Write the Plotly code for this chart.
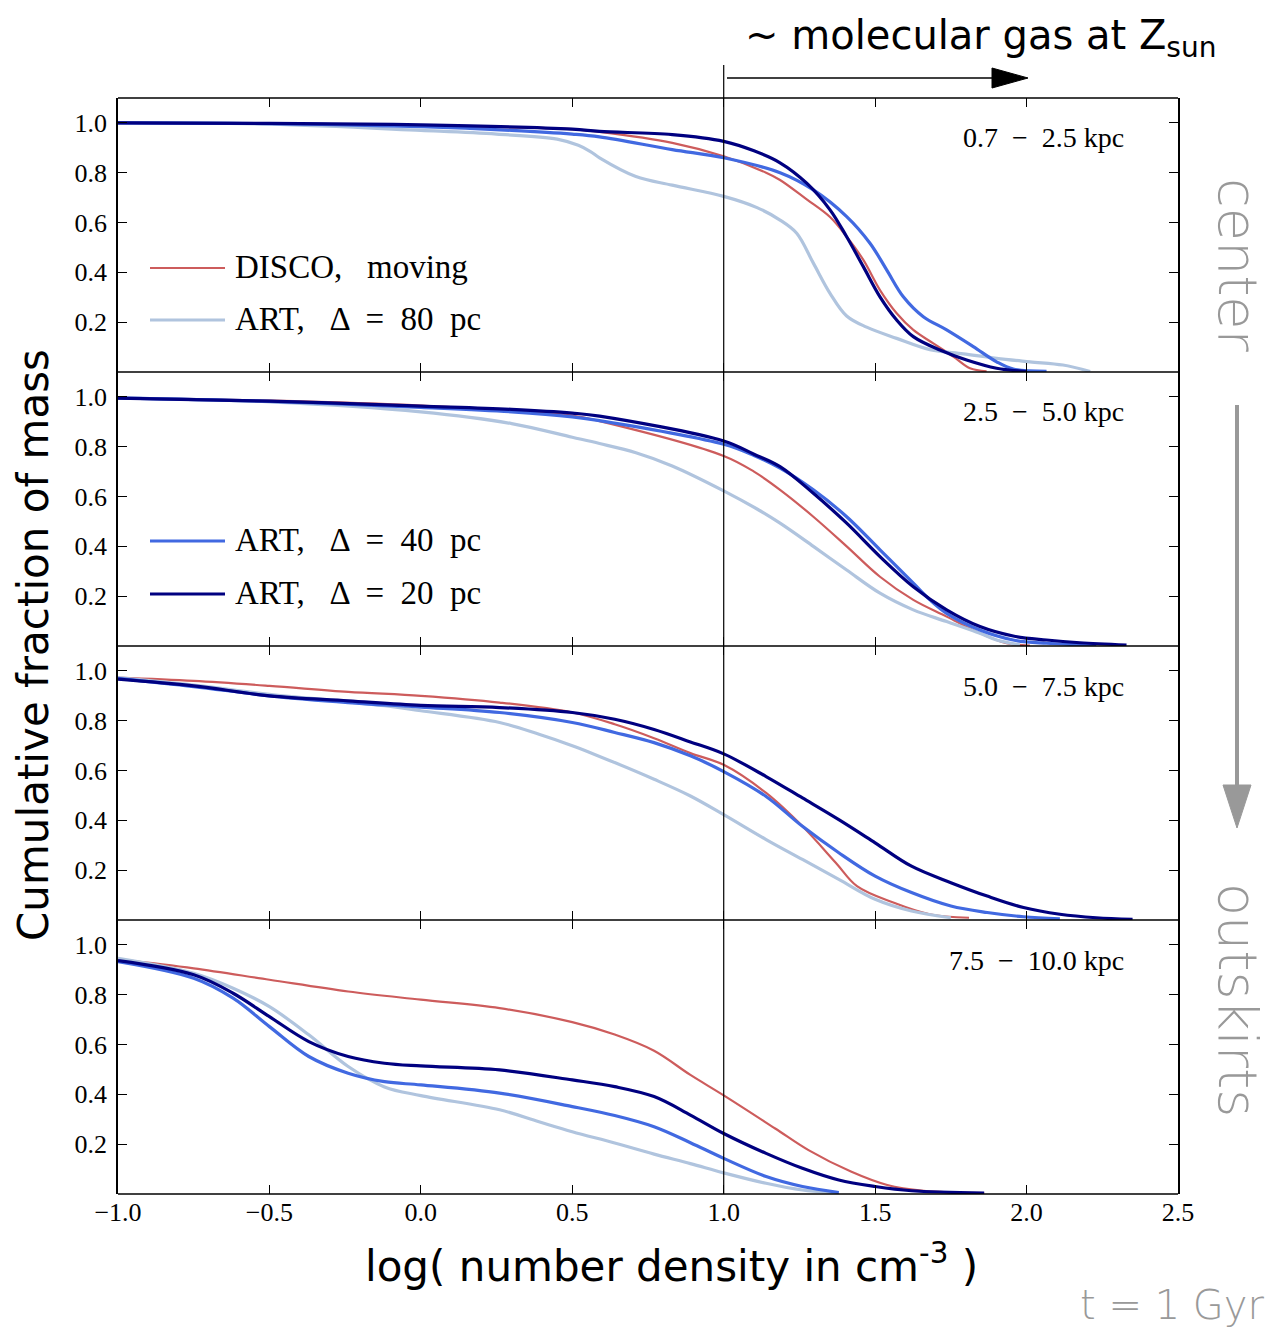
import plotly.graph_objects as go
from plotly.subplots import make_subplots

# ---------------- data ----------------
panel_labels = ["0.7  \u2212  2.5 kpc", "2.5  \u2212  5.0 kpc", "5.0  \u2212  7.5 kpc", "7.5  \u2212  10.0 kpc"]
series_names = ["DISCO,   moving", "ART,   \u0394  =  80  pc", "ART,   \u0394  =  40  pc", "ART,   \u0394  =  20  pc"]

# panel 1 : 0.7 - 2.5 kpc
p1_disco_x = [-1.0, -0.5, 0.0, 0.5, 0.59, 0.83, 1.0, 1.14, 1.186, 1.274, 1.351, 1.406, 1.461, 1.516, 1.571, 1.626, 1.692, 1.758, 1.813, 1.868]
p1_disco_y = [1.0, 0.997, 0.99, 0.975, 0.964, 0.92, 0.866, 0.80, 0.771, 0.693, 0.622, 0.543, 0.45, 0.329, 0.236, 0.169, 0.115, 0.062, 0.015, 0.003]
p1_art80_x = [-1.0, -0.5, 0.0, 0.25, 0.45, 0.52, 0.56, 0.59, 0.71, 0.83, 1.0, 1.11, 1.186, 1.241, 1.296, 1.351, 1.406, 1.472, 1.571, 1.681, 1.791, 1.901, 2.011, 2.12, 2.21]
p1_art80_y = [1.0, 0.995, 0.97, 0.955, 0.935, 0.91, 0.885, 0.86, 0.785, 0.75, 0.705, 0.66, 0.61, 0.557, 0.437, 0.316, 0.225, 0.18, 0.135, 0.09, 0.073, 0.055, 0.041, 0.028, 0.002]
p1_art40_x = [-1.0, -0.5, 0.0, 0.3, 0.5, 0.59, 0.83, 1.0, 1.186, 1.296, 1.406, 1.483, 1.538, 1.593, 1.659, 1.736, 1.824, 1.901, 1.956, 2.066]
p1_art40_y = [1.0, 0.997, 0.985, 0.97, 0.955, 0.944, 0.893, 0.86, 0.80, 0.731, 0.624, 0.517, 0.41, 0.302, 0.222, 0.169, 0.102, 0.041, 0.012, 0.003]
p1_art20_x = [-1.0, -0.5, 0.0, 0.5, 0.59, 0.83, 1.0, 1.10, 1.186, 1.274, 1.351, 1.406, 1.461, 1.516, 1.571, 1.626, 1.714, 1.802, 1.901, 2.0]
p1_art20_y = [1.0, 0.998, 0.992, 0.975, 0.966, 0.953, 0.926, 0.888, 0.84, 0.758, 0.651, 0.543, 0.423, 0.302, 0.209, 0.142, 0.088, 0.048, 0.015, 0.002]

# panel 2 : 2.5 - 5.0 kpc
p2_disco_x = [-1.0, -0.5, 0.0, 0.5, 0.59, 1.0, 1.10, 1.186, 1.296, 1.406, 1.516, 1.626, 1.736, 1.846, 1.934, 2.011]
p2_disco_y = [0.995, 0.985, 0.965, 0.925, 0.903, 0.763, 0.70, 0.627, 0.519, 0.40, 0.278, 0.185, 0.118, 0.051, 0.011, 0.002]
p2_art80_x = [-1.0, -0.5, 0.0, 0.3, 0.5, 0.59, 0.71, 0.83, 1.0, 1.11, 1.186, 1.296, 1.406, 1.516, 1.626, 1.736, 1.846, 1.901, 1.978]
p2_art80_y = [0.995, 0.98, 0.94, 0.893, 0.838, 0.813, 0.776, 0.723, 0.623, 0.55, 0.493, 0.40, 0.305, 0.212, 0.145, 0.098, 0.051, 0.024, 0.004]
p2_art40_x = [-1.0, -0.5, 0.0, 0.3, 0.5, 0.59, 1.0, 1.10, 1.186, 1.296, 1.406, 1.516, 1.626, 1.681, 1.736, 1.846, 1.956, 2.066, 2.23]
p2_art40_y = [0.995, 0.982, 0.958, 0.94, 0.92, 0.905, 0.81, 0.765, 0.714, 0.627, 0.519, 0.386, 0.252, 0.185, 0.131, 0.064, 0.024, 0.011, 0.003]
p2_art20_x = [-1.0, -0.5, 0.0, 0.3, 0.5, 0.59, 1.0, 1.10, 1.186, 1.296, 1.406, 1.516, 1.626, 1.736, 1.846, 1.956, 2.066, 2.176, 2.33]
p2_art20_y = [0.995, 0.983, 0.963, 0.95, 0.935, 0.923, 0.823, 0.77, 0.72, 0.613, 0.493, 0.359, 0.238, 0.145, 0.078, 0.04, 0.024, 0.013, 0.004]

# panel 3 : 5.0 - 7.5 kpc
p3_disco_x = [-1.0, -0.75, -0.5, -0.24, 0.0, 0.26, 0.5, 0.64, 0.77, 0.89, 1.0, 1.14, 1.26, 1.37, 1.44, 1.56, 1.68, 1.81]
p3_disco_y = [0.973, 0.96, 0.94, 0.916, 0.90, 0.873, 0.833, 0.786, 0.73, 0.67, 0.623, 0.51, 0.376, 0.23, 0.136, 0.07, 0.023, 0.009]
p3_art80_x = [-1.0, -0.75, -0.5, -0.24, -0.12, 0.0, 0.26, 0.39, 0.5, 0.64, 0.77, 0.89, 1.0, 1.14, 1.26, 1.38, 1.50, 1.62, 1.75]
p3_art80_y = [0.973, 0.943, 0.906, 0.876, 0.86, 0.84, 0.793, 0.746, 0.70, 0.632, 0.565, 0.498, 0.423, 0.323, 0.243, 0.163, 0.083, 0.036, 0.009]
p3_art40_x = [-1.0, -0.75, -0.5, -0.24, 0.0, 0.26, 0.5, 0.64, 0.77, 0.89, 1.0, 1.14, 1.26, 1.38, 1.50, 1.62, 1.75, 1.87, 1.99, 2.11]
p3_art40_y = [0.97, 0.937, 0.90, 0.873, 0.855, 0.833, 0.793, 0.753, 0.712, 0.659, 0.596, 0.496, 0.376, 0.27, 0.176, 0.11, 0.056, 0.03, 0.013, 0.005]
p3_art20_x = [-1.0, -0.75, -0.5, -0.24, 0.0, 0.26, 0.5, 0.64, 0.77, 0.89, 1.0, 1.14, 1.26, 1.38, 1.50, 1.62, 1.75, 1.87, 1.99, 2.11, 2.23, 2.35]
p3_art20_y = [0.967, 0.94, 0.90, 0.88, 0.862, 0.853, 0.833, 0.806, 0.765, 0.715, 0.667, 0.576, 0.49, 0.403, 0.31, 0.216, 0.15, 0.096, 0.05, 0.023, 0.009, 0.003]

# panel 4 : 7.5 - 10.0 kpc
p4_disco_x = [-1.0, -0.75, -0.5, -0.24, 0.0, 0.26, 0.5, 0.64, 0.77, 0.89, 1.0, 1.17, 1.28, 1.42, 1.54, 1.66, 1.86]
p4_disco_y = [0.942, 0.906, 0.86, 0.813, 0.78, 0.746, 0.69, 0.64, 0.575, 0.478, 0.396, 0.263, 0.176, 0.09, 0.036, 0.013, 0.004]
p4_art80_x = [-1.0, -0.75, -0.62, -0.5, -0.37, -0.24, -0.12, 0.0, 0.26, 0.39, 0.5, 0.64, 0.77, 0.89, 1.0, 1.14, 1.26, 1.38]
p4_art80_y = [0.946, 0.886, 0.826, 0.752, 0.639, 0.512, 0.43, 0.395, 0.338, 0.29, 0.25, 0.205, 0.16, 0.122, 0.085, 0.043, 0.016, 0.004]
p4_art40_x = [-1.0, -0.75, -0.62, -0.5, -0.37, -0.24, -0.12, 0.0, 0.26, 0.5, 0.64, 0.77, 0.89, 1.0, 1.14, 1.26, 1.38]
p4_art40_y = [0.933, 0.866, 0.786, 0.672, 0.552, 0.485, 0.451, 0.438, 0.405, 0.351, 0.315, 0.27, 0.206, 0.143, 0.07, 0.03, 0.006]
p4_art20_x = [-1.0, -0.75, -0.62, -0.5, -0.37, -0.24, -0.12, 0.0, 0.26, 0.5, 0.64, 0.77, 0.89, 1.0, 1.14, 1.26, 1.38, 1.50, 1.62, 1.86]
p4_art20_y = [0.937, 0.88, 0.806, 0.712, 0.612, 0.552, 0.525, 0.514, 0.498, 0.458, 0.431, 0.391, 0.317, 0.243, 0.163, 0.103, 0.056, 0.03, 0.013, 0.004]

x_tickvals = [-1.0, -0.5, 0.0, 0.5, 1.0, 1.5, 2.0, 2.5]
x_ticktext = ["\u22121.0", "\u22120.5", "0.0", "0.5", "1.0", "1.5", "2.0", "2.5"]
y_tickvals = [0.2, 0.4, 0.6, 0.8, 1.0]
y_ticktext = ["0.2", "0.4", "0.6", "0.8", "1.0"]

# ---------------- styling ----------------
colors = ["#CD5C5C", "#B0C4DE", "#4169E1", "#000080"]
widths = [2.2, 3.2, 3.2, 3.2]
SERIF = "Liberation Serif, DejaVu Serif, serif"
SANS = "DejaVu Sans, Lato, sans-serif"
GRAY = "#999999"

panels = [
    [(p1_disco_x, p1_disco_y), (p1_art80_x, p1_art80_y), (p1_art40_x, p1_art40_y), (p1_art20_x, p1_art20_y)],
    [(p2_disco_x, p2_disco_y), (p2_art80_x, p2_art80_y), (p2_art40_x, p2_art40_y), (p2_art20_x, p2_art20_y)],
    [(p3_disco_x, p3_disco_y), (p3_art80_x, p3_art80_y), (p3_art40_x, p3_art40_y), (p3_art20_x, p3_art20_y)],
    [(p4_disco_x, p4_disco_y), (p4_art80_x, p4_art80_y), (p4_art40_x, p4_art40_y), (p4_art20_x, p4_art20_y)],
]

fig = make_subplots(rows=4, cols=1, shared_xaxes=True, vertical_spacing=0)

for r, panel in enumerate(panels, start=1):
    for s, (xs, ys) in enumerate(panel):
        fig.add_trace(go.Scatter(
            x=xs, y=ys, mode="lines", name=series_names[s],
            line=dict(color=colors[s], width=widths[s], shape="spline", smoothing=1.0),
            showlegend=False, hoverinfo="skip"), row=r, col=1)

for r in range(1, 5):
    fig.update_xaxes(range=[-1.0, 2.5], tickvals=x_tickvals, ticktext=x_ticktext,
                     ticks="inside", ticklen=9, tickwidth=1.3, tickcolor="black",
                     showline=False, mirror="ticks",
                     showgrid=False, zeroline=False, showticklabels=(r == 4),
                     tickfont=dict(family=SERIF, size=26, color="black"),
                     automargin=False, row=r, col=1)
    fig.update_yaxes(range=[0, 1.1], tickvals=y_tickvals, ticktext=y_ticktext,
                     ticks="inside", ticklen=9, tickwidth=1.3, tickcolor="black",
                     showline=True, linecolor="black", linewidth=1.5, mirror="ticks",
                     showgrid=False, zeroline=False, ticklabelstandoff=4,
                     tickfont=dict(family=SERIF, size=26, color="black"),
                     automargin=False, row=r, col=1)

W, H = 1274, 1330
L, R, T, B = 118, 96, 98, 136
pw, ph = W - L - R, H - T - B

def px(x):
    return (x - L) / pw

def py(y):
    return (H - B - y) / ph

shapes = []
# horizontal panel borders (single line between stacked panels)
for k in range(5):
    shapes.append(dict(type="line", xref="paper", yref="paper", x0=0, x1=1, y0=k / 4, y1=k / 4,
                       line=dict(color="black", width=1.5)))
# vertical reference line at log n = 1
shapes.append(dict(type="line", xref="x", yref="paper", x0=1.0, x1=1.0, y0=0, y1=py(65),
                   line=dict(color="black", width=1.2)))
# molecular gas arrow
shapes.append(dict(type="line", xref="paper", yref="paper", x0=px(727), x1=px(995), y0=py(78), y1=py(78),
                   line=dict(color="black", width=1.5)))
shapes.append(dict(type="path", xref="paper", yref="paper",
                   path=f"M {px(992)},{py(68)} L {px(1028)},{py(78)} L {px(992)},{py(88)} Z",
                   fillcolor="black", line=dict(color="black", width=1)))
# gray center -> outskirts arrow
shapes.append(dict(type="line", xref="paper", yref="paper", x0=px(1237), x1=px(1237), y0=py(405), y1=py(790),
                   line=dict(color=GRAY, width=4)))
shapes.append(dict(type="path", xref="paper", yref="paper",
                   path=f"M {px(1223)},{py(785)} L {px(1237)},{py(828)} L {px(1251)},{py(785)} Z",
                   fillcolor=GRAY, line=dict(color=GRAY, width=1)))

# legend samples
legend_rows = [(268, 0), (320, 1), (541, 2), (594, 3)]
annotations = []
for ypix, s in legend_rows:
    shapes.append(dict(type="line", xref="paper", yref="paper", x0=px(150), x1=px(225), y0=py(ypix), y1=py(ypix),
                       line=dict(color=colors[s], width=widths[s])))
    annotations.append(dict(text=series_names[s], xref="paper", yref="paper", x=px(233), y=py(ypix - 1),
                            xanchor="left", yanchor="middle", showarrow=False,
                            font=dict(family=SERIF, size=33, color="black")))

# panel labels
for i, lab in enumerate(panel_labels):
    annotations.append(dict(text=lab, xref="paper", yref="paper", x=px(1126), y=py(138 + 274 * i),
                            xanchor="right", yanchor="middle", showarrow=False,
                            font=dict(family=SERIF, size=28, color="black")))

annotations += [
    dict(text="~ molecular gas at Z<sub>sun</sub>", xref="paper", yref="paper", x=px(743), y=py(38),
         xanchor="left", yanchor="middle", showarrow=False,
         font=dict(family=SANS, size=40, color="black")),
    dict(text="center", xref="paper", yref="paper", x=px(1238), y=py(265), textangle=90,
         xanchor="center", yanchor="middle", showarrow=False,
         font=dict(family=SANS, size=54, color=GRAY, weight=200)),
    dict(text="outskirts", xref="paper", yref="paper", x=px(1238), y=py(1000), textangle=90,
         xanchor="center", yanchor="middle", showarrow=False,
         font=dict(family=SANS, size=54, color=GRAY, weight=200)),
    dict(text="t = 1 Gyr", xref="paper", yref="paper", x=px(1266), y=py(1305),
         xanchor="right", yanchor="middle", showarrow=False,
         font=dict(family=SANS, size=40, color=GRAY, weight=200)),
    dict(text="Cumulative fraction of mass", xref="paper", yref="paper", x=px(33), y=py(645), textangle=-90,
         xanchor="center", yanchor="middle", showarrow=False,
         font=dict(family=SANS, size=42, color="black")),
    dict(text="log( number density in cm<sup>-3</sup> )", xref="paper", yref="paper", x=px(671), y=py(1263),
         xanchor="center", yanchor="middle", showarrow=False,
         font=dict(family=SANS, size=42, color="black")),
]

fig.update_layout(
    width=W, height=H,
    margin=dict(l=L, r=R, t=T, b=B, autoexpand=False),
    paper_bgcolor="white", plot_bgcolor="white",
    showlegend=False,
    shapes=shapes, annotations=annotations,
)

fig.write_html("out.html")
